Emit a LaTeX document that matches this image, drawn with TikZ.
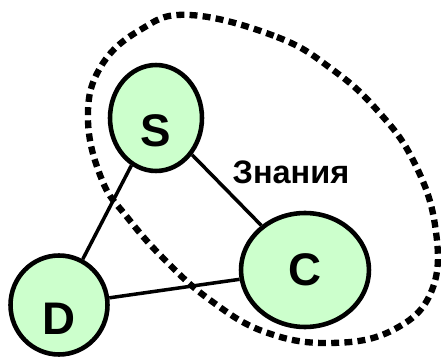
\documentclass[tikz,border=0pt]{standalone}
\usepackage{fontspec}
\setmainfont{Liberation Sans}
\usetikzlibrary{shapes.geometric}

\tikzset{
  agent/.style={ellipse,draw,line width=2.6pt,fill=green!20,inner sep=0pt,font=\bfseries\fontsize{26}{26}\selectfont},
  link/.style={line width=2pt},
  area/.style={line width=3.6pt,dash pattern=on 4.5pt off 3pt}
}

\begin{document}
\begin{tikzpicture}[x=0.02cm,y=-0.02cm]
            \useasboundingbox (0,0) rectangle (441,362);
            % knowledge area around S and C
            \draw[area] plot[smooth cycle,tension=0.7] coordinates {(190,15) (277,37) (333,70) (377,110) (413,160) (435,225) (432,290) (393,330) (330,343) (265,332) (210,300) (165,260) (127,217) (102,180) (88,120) (100,68) (140,30)};
            \node[agent,minimum width=1.84cm,minimum height=2.12cm,text height=33pt] at (156,118) (s) {S};
            \node[agent,minimum width=2.56cm,minimum height=2.28cm] at (305,270) (c) {C};
            \node[agent,minimum width=1.94cm,minimum height=1.98cm,text height=34pt] at (59,305) (d) {D};
            \node[font=\bfseries\fontsize{18.5}{18.5}\selectfont] at (291,172) (z) {Знания};
            \draw[link] (s) -- (d);
            \draw[link] (s) -- (c);
            \draw[link] (d) -- (c);
        \end{tikzpicture}
\end{document}
